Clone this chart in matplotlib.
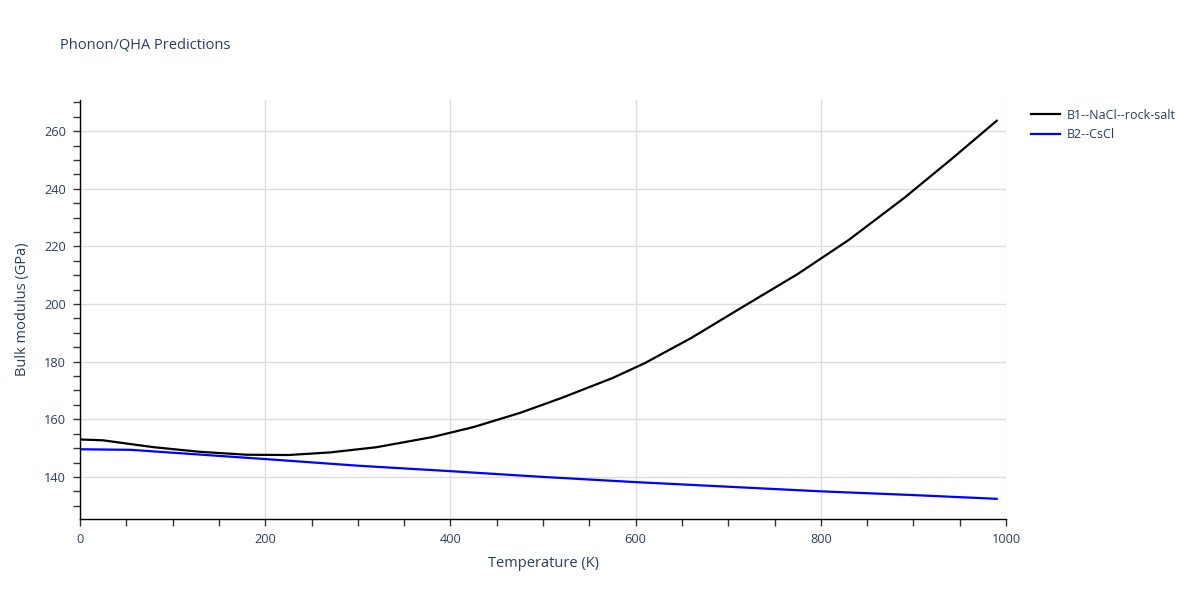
import matplotlib
matplotlib.use("Agg")
import matplotlib.pyplot as plt
from matplotlib.ticker import MultipleLocator

plt.rcParams['font.family'] = ['Open Sans', 'DejaVu Sans']

t_b1 = [0, 25, 50, 80, 130, 180, 225, 270, 320, 380, 425, 475, 520, 575, 610, 660, 710, 775, 830, 890, 940, 990]
k_b1 = [153.0, 152.7, 151.6, 150.3, 148.7, 147.7, 147.6, 148.5, 150.3, 153.8, 157.3, 162.2, 167.4, 174.3, 179.5, 188.2, 197.9, 210.4, 222.2, 236.8, 250.0, 263.6]
t_b2 = [0, 55, 100, 200, 300, 400, 500, 600, 700, 800, 900, 990]
k_b2 = [149.6, 149.4, 148.4, 146.2, 143.9, 142.0, 140.0, 138.2, 136.6, 135.0, 133.7, 132.4]

names = ["B1--NaCl--rock-salt", "B2--CsCl"]
colors = ["black", "blue"]

txt = "#2a3f5f"
fig = plt.figure(figsize=(12, 6), dpi=100)
ax = fig.add_axes([80/1200, 81/600, 926/1200, 419/600])

ax.plot(t_b1, k_b1, color=colors[0], lw=1.6, label=names[0])
ax.plot(t_b2, k_b2, color=colors[1], lw=1.6, label=names[1])

ax.set_xlim(0, 1000)
ax.set_ylim(125.4, 270.8)
ax.xaxis.set_major_locator(MultipleLocator(200))
ax.xaxis.set_minor_locator(MultipleLocator(50))
ax.yaxis.set_major_locator(MultipleLocator(20))
ax.yaxis.set_minor_locator(MultipleLocator(5))
ax.grid(True, which='major', color='#dddddd', lw=1)
ax.set_axisbelow(True)
for s in ['top', 'right']:
    ax.spines[s].set_visible(False)
for s in ['left', 'bottom']:
    ax.spines[s].set_color('black')
    ax.spines[s].set_linewidth(1)
ax.tick_params(which='both', direction='out', length=5, width=1, color='#333333', labelsize=9.2, labelcolor=txt)
ax.tick_params(which='major', pad=5)
ax.set_xlabel("Temperature (K)", fontsize=10.5, color=txt, labelpad=7)
ax.set_ylabel("Bulk modulus (GPa)", fontsize=10.5, color=txt, labelpad=10)

fig.text(60/1200, 1 - 45/600, "Phonon/QHA Predictions", fontsize=10.5, color=txt, va='center', ha='left')

leg = ax.legend(loc='upper left', bbox_to_anchor=(1.018, 1.0), frameon=False, fontsize=9,
                handlelength=2.3, handletextpad=0.5, labelspacing=0.5, borderaxespad=0.3)
for t in leg.get_texts():
    t.set_color(txt)

fig.savefig("out.png", dpi=100)
